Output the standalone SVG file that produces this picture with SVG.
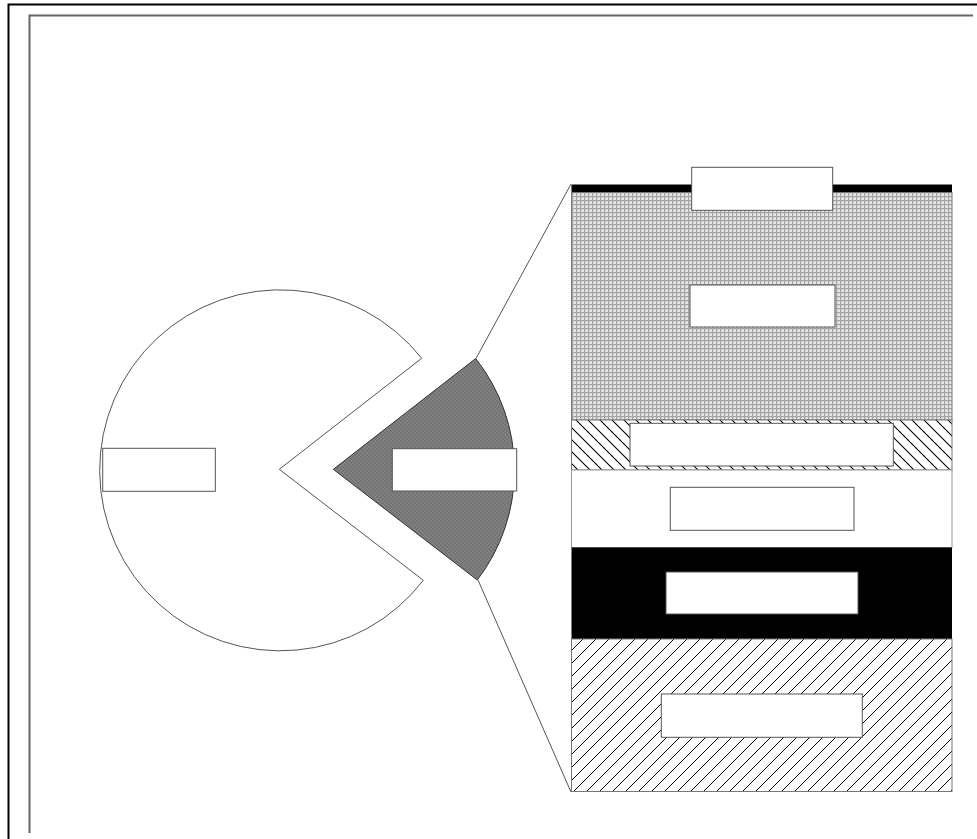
<svg xmlns="http://www.w3.org/2000/svg" width="977" height="839" viewBox="0 0 977 839">
<style>
.lbl{fill:#fff;stroke:#555;stroke-width:1}
.edge{fill:none;stroke:#555;stroke-width:1}
</style>
<defs>
<pattern id="grid" width="4" height="4" patternUnits="userSpaceOnUse">
<rect width="4" height="4" fill="#e6e6e6"/>
<rect x="0" y="0" width="4" height="1.2" fill="#a4a4a4"/>
<rect x="0" y="0" width="1.2" height="4" fill="#a4a4a4"/>
</pattern>
<pattern id="dark" width="4" height="4" patternUnits="userSpaceOnUse">
<rect width="4" height="4" fill="#808080"/>
<rect x="0" y="0" width="2" height="2" fill="#747474"/>
<rect x="2" y="2" width="2" height="2" fill="#747474"/>
</pattern>
<pattern id="bslash" width="12" height="12" patternUnits="userSpaceOnUse">
<rect width="12" height="12" fill="#fff"/>
<path d="M-1,-1 L13,13 M-7,5 L1,13 M5,-7 L13,1" stroke="#000" stroke-width="1.1"/>
</pattern>
<pattern id="fslash" width="13" height="13" patternUnits="userSpaceOnUse">
<rect width="13" height="13" fill="#fff"/>
<path d="M-1,14 L14,-1 M-7,7 L7,-7 M6,20 L20,6" stroke="#000" stroke-width="1"/>
</pattern>
</defs>
<g id="frame">
<path d="M977,4.5 L8.5,4.5 L8.5,839" fill="none" stroke="#000" stroke-width="2"/>
<path d="M973,15.5 L29.5,15.5 L29.5,833" fill="none" stroke="#666" stroke-width="2"/>
</g>
<g id="connectors">
<line class="edge" x1="571" y1="184" x2="476" y2="358.5"/>
<line class="edge" x1="571" y1="792" x2="478" y2="580"/>
</g>
<g id="pie">
<path d="M421.7,358.3 A180.5,180.5 0 1 0 423.3,580.3 L279.3,469.3 Z" fill="#fff" stroke="#555" stroke-width="1"/>
<rect class="lbl" x="102.7" y="448.3" width="112.6" height="43"/>
</g>
<g id="wedge">
<path d="M333.3,469.3 L475.7,358.5 A180.5,180.5 0 0 1 477.3,580 Z" fill="url(#dark)" stroke="#333" stroke-width="1"/>
<rect class="lbl" x="392.3" y="448.7" width="124.4" height="42.3"/>
</g>
<g id="stack">
<rect x="571.5" y="184.5" width="380.5" height="8" fill="#000"/>
<rect x="571.5" y="192.5" width="380.5" height="227.5" fill="url(#grid)" stroke="#777" stroke-width="1"/>
<rect x="571.5" y="420" width="380.5" height="50" fill="url(#bslash)" stroke="#777" stroke-width="1"/>
<rect x="571.5" y="470" width="380.5" height="77.5" fill="#fff" stroke="#999" stroke-width="1"/>
<rect x="571.5" y="547.5" width="380.5" height="91.5" fill="#000"/>
<rect x="571.5" y="639" width="380.5" height="152.5" fill="url(#fslash)" stroke="#777" stroke-width="1"/>
</g>
<g id="label-top"><rect class="lbl" x="691.7" y="167.3" width="141" height="43"/></g>
<g id="label-grid"><rect class="lbl" x="690" y="285" width="145" height="42"/></g>
<g id="label-bslash"><rect class="lbl" x="630" y="423.3" width="263.3" height="42.7"/></g>
<g id="label-white"><rect class="lbl" x="670.3" y="487.3" width="183.7" height="43"/></g>
<g id="label-black"><rect class="lbl" x="666" y="572" width="192" height="42"/></g>
<g id="label-fslash"><rect class="lbl" x="661.3" y="694" width="201" height="43.3"/></g>
</svg>
